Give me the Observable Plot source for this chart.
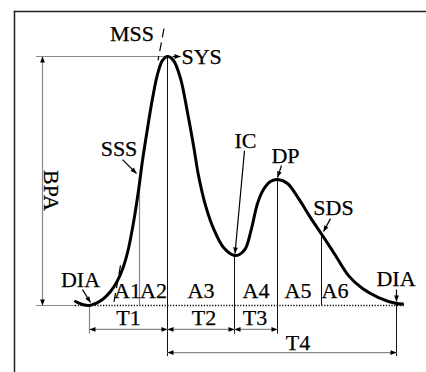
<!DOCTYPE html>
<html><head><meta charset="utf-8">
<script src="https://cdn.jsdelivr.net/npm/d3@7"></script>
<script src="https://cdn.jsdelivr.net/npm/@observablehq/plot@0.6"></script>
<style>html,body{margin:0;padding:0;background:#fff;}</style>
</head><body><div id="chart"></div>
<script>
// Pulse waveform: time (sample units) vs amplitude (% of BPA)
const waveT = [75,82,89,95,102,110,117,123,128,133,138,142,147,152,157,162,167,173,180,187,193,198,205,213,223,234,239,245,251,257,263,270,277,287,298,310,322,335,348,362,378,396,402];
const waveA = [1.6,0.4,0,0.8,2.4,5.6,10.0,15.7,22.9,33.3,46.2,58.2,71.1,83.1,92.8,98.4,100,98.4,91.2,77.5,64.3,52.2,40.2,30.9,23.3,20.1,20.5,22.9,30.9,41.0,46.6,49.8,50.6,49.0,43.0,35.3,28.1,20.1,12.0,6.8,3.2,0.8,0.6];

// vertical guide segments
const grayGuideT = [89, 139];
const grayGuideTop = [0, 51.0];
const grayGuideBottom = [-11.5, 0];
const blackGuideT = [167, 234, 277, 321, 396];
const blackGuideTop = [100, 20.1, 50.6, 28.5, 0.8];
const blackGuideBottom = [-20.5, -11.5, -11.5, 0, -20.5];

// horizontal reference lines
const refLevel = [100, 0];
const refStart = [36, 36];
const refEnd = [167, 75];
const dottedBase = [75, 405];

// double-headed interval arrows
const intervalNames = ["T1","T2","T3","T4"];
const intervalStart = [89, 167, 234, 167];
const intervalEnd = [167, 234, 277, 396];
const intervalLevel = [-9.6, -9.6, -9.6, -18.9];
const bpaT = 42, bpaRange = [0, 100];

// single pointer arrows (from -> to)
const pointerNames = ["SYS","SSS","IC","DP","SDS","DIA","DIA"];
const pointerT1 = [172, 122, 244, 281, 330, 82, 396];
const pointerA1 = [100, 58.6, 62.2, 56.2, 34.9, 6.4, 6.4];
const pointerT2 = [180, 136, 234.5, 277, 323, 90, 396];
const pointerA2 = [100, 53.0, 20.9, 51.4, 29.7, 1.2, 1.6];

// dashed slope marks (MSS and A1)
const slashT1 = [163.5, 120], slashA1 = [111.2, 16.1];
const slashT2 = [157.5, 113], slashA2 = [98.4, 0.4];

// labels
const labelText = ["MSS","SSS","IC","DP","SDS","DIA","DIA","A1","A2","A3","A4","A5","A6","T1","T2","T3","T4"];
const labelT = [131.5,118.5,245,285,333,80,395.5,127,153,200.5,255.5,297.5,334.5,128,203.5,254.5,297.5];
const labelA = [109.0,62.7,65.9,60.2,39.0,10.4,10.8,5.8,5.8,5.8,5.8,5.8,5.8,-5.0,-5.0,-5.0,-15.1];

const xOpts = {domain: [0, 426], range: [0, 426]};
const yOpts = {domain: [0, 100], range: [305, 56]};
const sx = Plot.scale({x: xOpts});
const sy = Plot.scale({y: yOpts});

const wave = waveT.map((t, i) => ({t, a: waveA[i]}));
const grayGuides = grayGuideT.map((t, i) => ({t, a1: grayGuideTop[i], a2: grayGuideBottom[i]}));
const blackGuides = blackGuideT.map((t, i) => ({t, a1: blackGuideTop[i], a2: blackGuideBottom[i]}));
const refs = refLevel.map((a, i) => ({a, t1: refStart[i], t2: refEnd[i]}));
const intervals = intervalNames.map((n, i) => ({n, t1: intervalStart[i], t2: intervalEnd[i], a: intervalLevel[i]}));
const shafts = [...intervals.map(d => ({t1: d.t1, a1: d.a, t2: d.t2, a2: d.a})), {t1: bpaT, a1: bpaRange[0], t2: bpaT, a2: bpaRange[1]}];
const pointers = pointerNames.map((n, i) => ({t1: pointerT1[i], a1: pointerA1[i], t2: pointerT2[i], a2: pointerA2[i]}));
const slashes = slashT1.map((t, i) => ({t1: t, a1: slashA1[i], t2: slashT2[i], a2: slashA2[i]}));

function angle(t1, a1, t2, a2) {
  const dx = sx.apply(t2) - sx.apply(t1), dy = sy.apply(a2) - sy.apply(a1);
  return Math.atan2(dx, -dy) * 180 / Math.PI;
}
const heads = [];
for (const s of shafts) {
  heads.push({t: s.t2, a: s.a2, r: angle(s.t1, s.a1, s.t2, s.a2)});
  heads.push({t: s.t1, a: s.a1, r: angle(s.t2, s.a2, s.t1, s.a1)});
}
for (const p of pointers) heads.push({t: p.t2, a: p.a2, r: angle(p.t1, p.a1, p.t2, p.a2)});
const headSymbol = {draw(ctx) { const l = 6, w = 2.4; ctx.moveTo(0, 0); ctx.lineTo(-w, l); ctx.lineTo(w, l); ctx.closePath(); }};

const labels = labelText.map((s, i) => ({s, t: labelT[i], a: labelA[i]}));
const serif = "Liberation Serif";
const textStyle = {fontSize: 22, fontFamily: serif, fill: "#000", stroke: "#000", strokeWidth: 0.25};

const chart = Plot.plot({
  width: 426, height: 372,
  marginLeft: 14, marginTop: 11, marginRight: 0, marginBottom: 0,
  x: {...xOpts, axis: null},
  y: {...yOpts, axis: null},
  marks: [
    Plot.frame({anchor: "left", stroke: "#222", strokeWidth: 1.5}),
    Plot.frame({anchor: "top", stroke: "#222", strokeWidth: 1.5}),
    Plot.ruleY(refs, {y: "a", x1: "t1", x2: "t2", stroke: "#888", strokeWidth: 1.2}),
    Plot.ruleY([0], {x1: dottedBase[0], x2: dottedBase[1], stroke: "#000", strokeWidth: 1.5, strokeDasharray: "1.2,1.6"}),
    Plot.ruleX(grayGuides, {x: "t", y1: "a1", y2: "a2", stroke: "#888", strokeWidth: 1.2}),
    Plot.ruleX(blackGuides, {x: "t", y1: "a1", y2: "a2", stroke: "#111", strokeWidth: 1}),
    Plot.link(shafts, {x1: "t1", y1: "a1", x2: "t2", y2: "a2", stroke: "#888", strokeWidth: 1.2}),
    Plot.link(pointers, {x1: "t1", y1: "a1", x2: "t2", y2: "a2", stroke: "#000", strokeWidth: 1.2}),
    Plot.link(slashes, {x1: "t1", y1: "a1", x2: "t2", y2: "a2", stroke: "#000", strokeWidth: 1.2, strokeDasharray: "9,5"}),
    Plot.line(wave, {x: "t", y: "a", curve: "catmull-rom", stroke: "#000", strokeWidth: 3}),
    Plot.dot(heads, {x: "t", y: "a", rotate: "r", symbol: headSymbol, fill: "#000", stroke: "none"}),
    Plot.text(labels, {x: "t", y: "a", text: "s", ...textStyle}),
    Plot.text(["SYS"], {x: pointerT2[0], y: pointerA2[0], text: d => d, textAnchor: "start", dx: 1, ...textStyle}),
    Plot.text(["BPA"], {x: bpaT, y: (bpaRange[0] + bpaRange[1]) / 2 - 3.8, text: d => d, rotate: 90, dx: 9, ...textStyle})
  ]
});
document.getElementById("chart").appendChild(chart);
</script>
</body></html>
